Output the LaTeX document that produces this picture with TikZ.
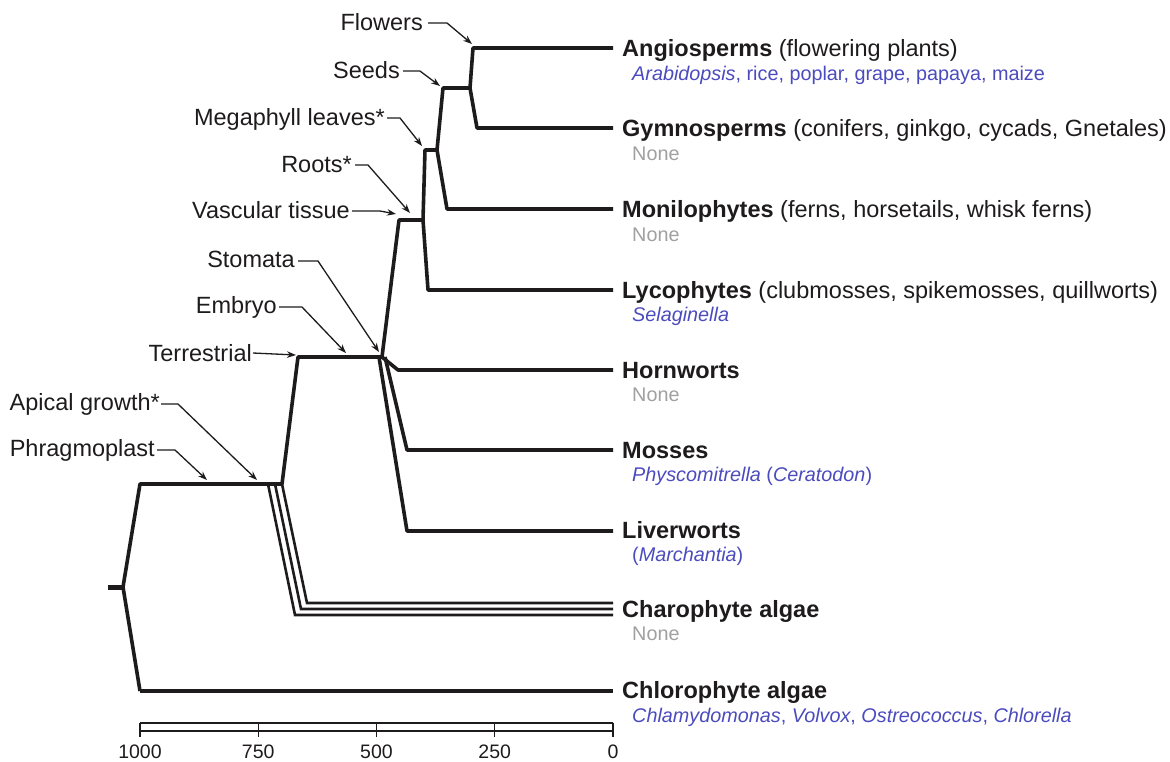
\documentclass[tikz,border=0pt]{standalone}
\usepackage{fontspec}
\setmainfont{Liberation Sans}
\usetikzlibrary{arrows.meta}
\definecolor{txt}{RGB}{30,27,28}
\definecolor{subc}{RGB}{75,75,190}
\definecolor{nonec}{RGB}{160,160,160}
\tikzset{
 branch/.style={line width=3.6pt, line join=round, draw=txt},
 charo/.style={line width=2.6pt, line join=miter, draw=txt},
 arr/.style={line width=1.3pt, draw=txt, -{Stealth[length=9pt,width=6.5pt]}},
 lab/.style={anchor=base east, inner sep=0pt, font=\fontsize{23.5}{28}\selectfont, text=txt},
 taxon/.style={anchor=base west, inner sep=0pt, font=\fontsize{23.5}{28}\selectfont, text=txt},
 subl/.style={anchor=base west, inner sep=0pt, font=\fontsize{19.8}{23}\selectfont, text=subc},
 nonel/.style={anchor=base west, inner sep=0pt, font=\fontsize{19.8}{23}\selectfont, text=nonec},
 axisl/.style={line width=1.2pt, draw=txt},
 tickl/.style={anchor=base, inner sep=0pt, font=\fontsize{19.5}{23}\selectfont, text=txt},
}
\begin{document}
\begin{tikzpicture}[x=1pt,y=-1pt]
\useasboundingbox (0,0) rectangle (1170,761);
% ---- tree vertices
\coordinate (r0) at (108,587);
\coordinate (r) at (123,587);
\coordinate (u) at (140,484);
\coordinate (l) at (140,691);
\coordinate (chlE) at (613,691);
\coordinate (p) at (282,484);
\coordinate (t) at (298,357);
\coordinate (tj) at (382,357);
\coordinate (tjm) at (385,357);
\coordinate (tjl) at (379,357);
\coordinate (hw1) at (398,370);
\coordinate (hwE) at (613,370);
\coordinate (ms1) at (407,450);
\coordinate (msE) at (613,450);
\coordinate (lv1) at (407,531);
\coordinate (lvE) at (613,531);
\coordinate (v0) at (399,220);
\coordinate (v1) at (423,220);
\coordinate (ly1) at (428,290);
\coordinate (lyE) at (613,290);
\coordinate (m0) at (425,150);
\coordinate (m1) at (437,150);
\coordinate (mo1) at (447,209);
\coordinate (moE) at (613,209);
\coordinate (s0) at (443,88);
\coordinate (s1) at (470,88);
\coordinate (an1) at (473,48);
\coordinate (anE) at (613,48);
\coordinate (gy1) at (477,128);
\coordinate (gyE) at (613,128);
% charophyte lines
\coordinate (c1a) at (268,484); \coordinate (c1b) at (295,615); \coordinate (c1c) at (613,615);
\coordinate (c2a) at (275,484); \coordinate (c2b) at (301,609); \coordinate (c2c) at (613,609);
\coordinate (c3a) at (282,484); \coordinate (c3b) at (307,603); \coordinate (c3c) at (613,603);
% ---- branches
\draw[branch, line width=5pt] (r0) -- (r);
\draw[branch] (l) -- (r) -- (u) -- (p) -- (t) -- (tj) -- (v0) -- (v1) -- (m0) -- (m1) -- (s0) -- (s1) -- (an1) -- (anE);
\draw[branch] (l) -- (chlE);
\draw[branch] (s1) -- (gy1) -- (gyE);
\draw[branch] (m1) -- (mo1) -- (moE);
\draw[branch] (v1) -- (ly1) -- (lyE);
\draw[branch] (tj) -- (hw1) -- (hwE);
\draw[branch] (tjm) -- (ms1) -- (msE);
\draw[branch] (tjl) -- (lv1) -- (lvE);
\draw[charo] (c1a) -- (c1b) -- (c1c);
\draw[charo] (c2a) -- (c2b) -- (c2c);
\draw[charo] (c3a) -- (c3b) -- (c3c);
% ---- taxa
\node[taxon] (angio) at (622,56) {\textbf{Angiosperms} (flowering plants)};
\node[subl] (angioS) at (632,80) {\textit{Arabidopsis}, rice, poplar, grape, papaya, maize};
\node[taxon] (gymno) at (622,136) {\textbf{Gymnosperms} (conifers, ginkgo, cycads, Gnetales)};
\node[nonel] (gymnoS) at (632,160) {None};
\node[taxon] (moni) at (622,217) {\textbf{Monilophytes} (ferns, horsetails, whisk ferns)};
\node[nonel] (moniS) at (632,241) {None};
\node[taxon] (lyco) at (622,298) {\textbf{Lycophytes} (clubmosses, spikemosses, quillworts)};
\node[subl] (lycoS) at (632,321) {\textit{Selaginella}};
\node[taxon] (horn) at (622,378) {\textbf{Hornworts}};
\node[nonel] (hornS) at (632,401) {None};
\node[taxon] (moss) at (622,458) {\textbf{Mosses}};
\node[subl] (mossS) at (632,481) {\textit{Physcomitrella} (\textit{Ceratodon})};
\node[taxon] (liver) at (622,538) {\textbf{Liverworts}};
\node[subl] (liverS) at (632,561) {(\textit{Marchantia})};
\node[taxon] (charo) at (622,617) {\textbf{Charophyte algae}};
\node[nonel] (charoS) at (632,640) {None};
\node[taxon] (chloro) at (622,698) {\textbf{Chlorophyte algae}};
\node[subl] (chloroS) at (632,722) {\textit{Chlamydomonas}, \textit{Volvox}, \textit{Ostreococcus}, \textit{Chlorella}};
% ---- character labels and arrows
\node[lab] (flw) at (423,30) {Flowers};
\coordinate (flwA) at (428,23); \coordinate (flwB) at (447,23); \coordinate (flwT) at (472,44);
\draw[arr] (flwA) -- (flwB) -- (flwT);
\node[lab] (sed) at (400,78) {Seeds};
\coordinate (sedA) at (403,71); \coordinate (sedB) at (420,71); \coordinate (sedT) at (440,86);
\draw[arr] (sedA) -- (sedB) -- (sedT);
\node[lab] (meg) at (385,125) {Megaphyll leaves*};
\coordinate (megA) at (387,118); \coordinate (megB) at (400,118); \coordinate (megT) at (422,146);
\draw[arr] (megA) -- (megB) -- (megT);
\node[lab] (roo) at (352,172) {Roots*};
\coordinate (rooA) at (355,165); \coordinate (rooB) at (368,165); \coordinate (rooT) at (410,213);
\draw[arr] (rooA) -- (rooB) -- (rooT);
\node[lab] (vas) at (350,218) {Vascular tissue};
\coordinate (vasA) at (352,211); \coordinate (vasB) at (380,211); \coordinate (vasT) at (396,214);
\draw[arr] (vasA) -- (vasB) -- (vasT);
\node[lab] (sto) at (295,267) {Stomata};
\coordinate (stoA) at (298,261); \coordinate (stoB) at (318,261); \coordinate (stoT) at (379,352);
\draw[arr] (stoA) -- (stoB) -- (stoT);
\node[lab] (emb) at (277,313) {Embryo};
\coordinate (embA) at (279,307); \coordinate (embB) at (302,307); \coordinate (embT) at (346,353);
\draw[arr] (embA) -- (embB) -- (embT);
\node[lab] (ter) at (252,361) {Terrestrial};
\coordinate (terA) at (253,353); \coordinate (terT) at (296,355);
\draw[arr] (terA) -- (terT);
\node[lab] (api) at (160,410) {Apical growth*};
\coordinate (apiA) at (161,404); \coordinate (apiB) at (178,404); \coordinate (apiT) at (257,480);
\draw[arr] (apiA) -- (apiB) -- (apiT);
\node[lab] (phr) at (155,456) {Phragmoplast};
\coordinate (phrA) at (157,450); \coordinate (phrB) at (175,450); \coordinate (phrT) at (207,480);
\draw[arr] (phrA) -- (phrB) -- (phrT);
% ---- time axis
\coordinate (ax0) at (140,723); \coordinate (ax1) at (613,723);
\coordinate (bx0) at (140,731); \coordinate (bx1) at (613,731);
\draw[axisl] (ax0) -- (ax1);
\draw[axisl] (bx0) -- (bx1);
\foreach \xx/\lbl [count=\i] in {140/1000, 258.25/750, 376.5/500, 494.75/250, 613/0} {
  \coordinate (tkt\i) at (\xx,723);
  \coordinate (tkb\i) at (\xx,737);
  \draw[axisl] (tkt\i) -- (tkb\i);
  \node[tickl] (tk\i) at (\xx,758) {\lbl};
}
\end{tikzpicture}
\end{document}
